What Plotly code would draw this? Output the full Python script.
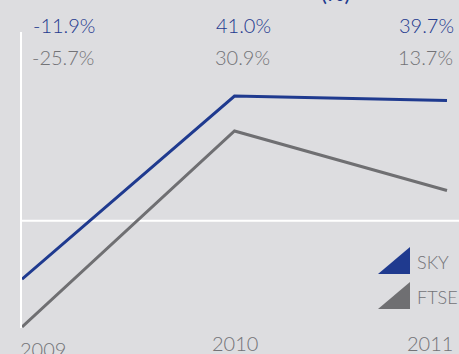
import plotly.graph_objects as go

# Annual share price performance, %
years = [2009, 2010, 2011]
sky_values = [-11.9, 41.0, 39.7]
ftse_values = [-25.7, 30.9, 13.7]
series_names = ["SKY", "FTSE"]
year_labels = ["2009", "2010", "2011"]

BLUE = "#1f3a8f"
GREY = "#6f6f72"
TEXT_GREY = "#737377"
BG = "#dddde0"
FONT = "Lato"

W, H = 459, 354
M_L, M_R, M_T, M_B = 22, 0, 32, 26
PLOT_W = W - M_L - M_R
PLOT_H = H - M_T - M_B


def px_x(px):
    return (px - M_L) / PLOT_W


def px_y(py):
    return (H - M_B - py) / PLOT_H


fig = go.Figure()
fig.add_trace(go.Scatter(x=years, y=sky_values, mode="lines", name=series_names[0],
                         line=dict(color=BLUE, width=3), showlegend=False))
fig.add_trace(go.Scatter(x=years, y=ftse_values, mode="lines", name=series_names[1],
                         line=dict(color=GREY, width=3), showlegend=False))

# reference line across the plot
fig.add_shape(type="line", xref="paper", x0=0, x1=1, yref="y", y0=5, y1=5,
              line=dict(color="white", width=2), layer="below")

# value labels above each year
anchors = ["left", "center", "right"]
for i, yr in enumerate(years):
    fig.add_annotation(x=yr, y=1, xref="x", yref="paper", yanchor="middle",
                       xanchor=anchors[i], xshift=9, yshift=7, showarrow=False,
                       text=f"{sky_values[i]:.1f}%",
                       font=dict(family=FONT, size=20, color=BLUE, weight=300))
    fig.add_annotation(x=yr, y=1, xref="x", yref="paper", yanchor="middle",
                       xanchor=anchors[i], xshift=8, yshift=-25, showarrow=False,
                       text=f"{ftse_values[i]:.1f}%",
                       font=dict(family=FONT, size=20, color=TEXT_GREY, weight=300))

# year labels under the plot
year_shift = [(21, -21), (0, -15), (-17, -15)]
for yr, lab, (dx, dy) in zip(years, year_labels, year_shift):
    fig.add_annotation(x=yr, y=0, xref="x", yref="paper", yanchor="middle",
                       xanchor="center", xshift=dx, yshift=dy, showarrow=False,
                       text=lab, font=dict(family=FONT, size=20, color=TEXT_GREY, weight=300))

# legend: wedge glyphs with names
for (top, bottom), color, name in zip([(247, 274), (282, 309)], [BLUE, GREY], series_names):
    x0, x1 = px_x(378), px_x(410)
    y0, y1 = px_y(bottom), px_y(top)
    fig.add_shape(type="path", xref="paper", yref="paper",
                  path=f"M {x0} {y0} L {x1} {y1} L {x1} {y0} Z",
                  fillcolor=color, line=dict(width=0))
    fig.add_annotation(x=px_x(415), y=px_y((top + bottom) / 2 + 1), xref="paper", yref="paper",
                       xanchor="left", yanchor="middle", showarrow=False, text=name,
                       font=dict(family=FONT, size=18, color=TEXT_GREY, weight=300))

# heading, mostly above the visible area
fig.add_annotation(x=px_x(335), y=px_y(-8), xref="paper", yref="paper",
                   xanchor="center", yanchor="middle", showarrow=False, text="(%)",
                   font=dict(family=FONT, size=22, color=BLUE))

fig.update_layout(
    width=W, height=H,
    margin=dict(l=M_L, r=M_R, t=M_T, b=M_B),
    paper_bgcolor=BG, plot_bgcolor=BG,
    xaxis=dict(range=[2009, 2009 + PLOT_W / 212.5], showgrid=False, zeroline=False,
               showticklabels=False, showline=False, fixedrange=True),
    yaxis=dict(range=[-26, 59.5], showgrid=False, zeroline=False, showticklabels=False,
               showline=True, linecolor="white", linewidth=2, fixedrange=True),
)

fig.write_html("out.html")
